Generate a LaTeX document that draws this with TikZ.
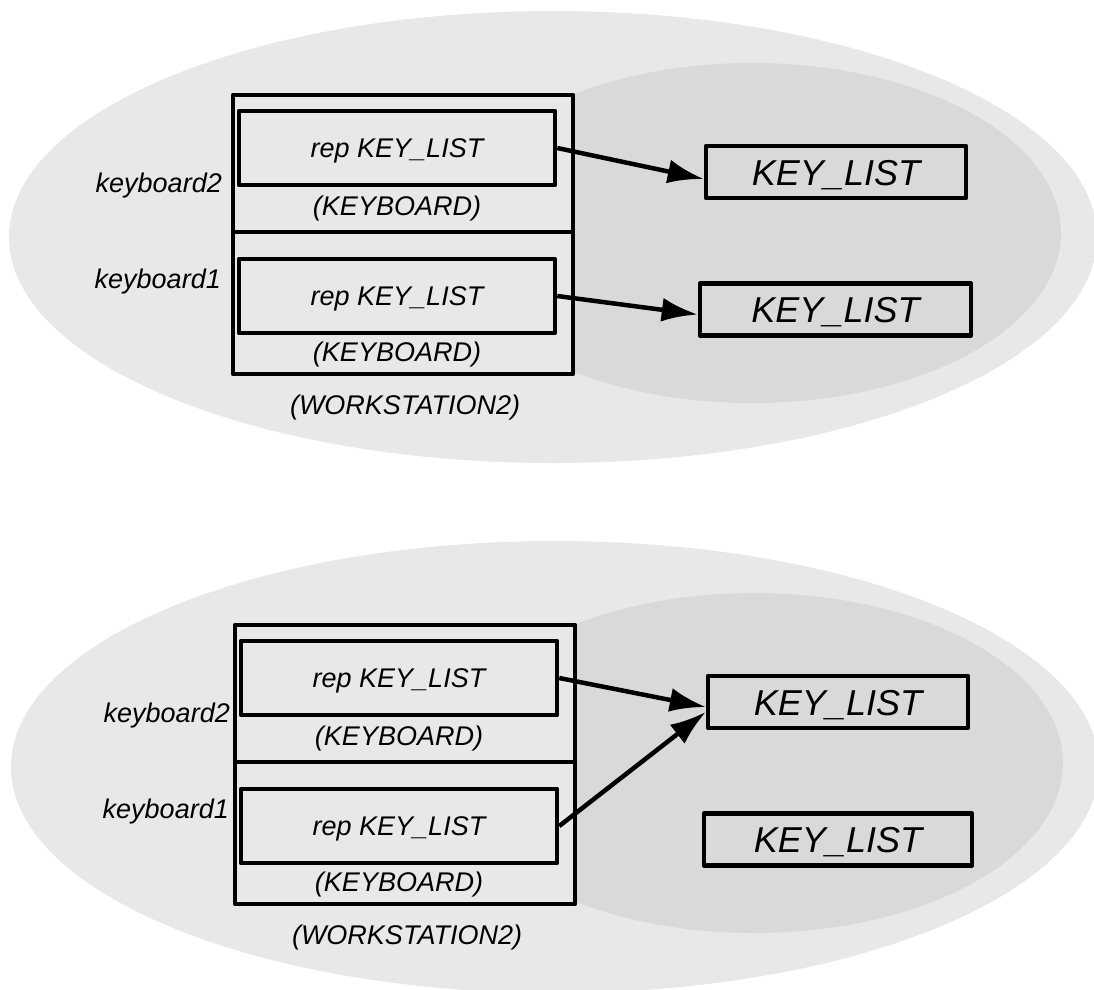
\documentclass[tikz,border=0pt]{standalone}
\usepackage{fontspec}
\setmainfont{Liberation Sans}
\usetikzlibrary{arrows.meta}
\definecolor{outerfill}{HTML}{E8E8E8}
\definecolor{innerfill}{HTML}{D9D9D9}

\begin{document}
\begin{tikzpicture}[x=1pt,y=-1pt,
  smalltext/.style={inner sep=0pt, text height=19.5pt, text depth=0pt,
    font=\fontsize{27}{32}\selectfont\itshape},
  bigtext/.style={inner sep=0pt, text height=26pt, text depth=0pt,
    font=\fontsize{36}{43}\selectfont\itshape},
  wsbox/.style={draw, line width=4.5pt, line join=round, fill=outerfill,
    minimum width=340pt, minimum height=279pt, inner sep=0pt},
  divider/.style={line width=4pt},
  repbox/.style={smalltext, draw, line width=4.5pt, line join=round, fill=outerfill,
    minimum width=316pt, minimum height=74pt},
  keybox/.style={bigtext, draw, line width=4.5pt, line join=round, fill=innerfill,
    minimum height=52pt},
  link/.style={line width=4.5pt, -{Latex[length=36pt,width=24pt]}},
]
\useasboundingbox (0,0) rectangle (1094,989);
\clip (0,0) rectangle (1094,989);

% ---------- upper configuration ----------
\begin{scope}[name prefix=t-]
  \fill[outerfill] (553,237) ellipse [x radius=544pt, y radius=226pt];
  \fill[innerfill] (752,233) ellipse [x radius=309pt, y radius=170pt];

  \node[wsbox] (ws) at (403,234.5) {};
  \draw[divider] ([yshift=2.5pt]ws.west) -- ([yshift=2.5pt]ws.east);

  \node[repbox] (rep2) at (397,148) {rep KEY\_LIST};
  \node[repbox] (rep1) at (397,296) {rep KEY\_LIST};
  \node[smalltext] (kb2) at (397,206) {(KEYBOARD)};
  \node[smalltext] (kb1) at (397,352) {(KEYBOARD)};
  \node[smalltext] (wsname) at (405,405) {(WORKSTATION2)};
  \node[smalltext, anchor=east] (lab2) at (222,183) {keyboard2};
  \node[smalltext, anchor=east] (lab1) at (221,279) {keyboard1};

  \node[keybox, minimum width=260pt] (kl1) at (836,172) {KEY\_LIST};
  \node[keybox, minimum width=271pt] (kl2) at (835.5,309.5) {KEY\_LIST};

  \draw[link] (rep2.east) -- ([yshift=-7pt]kl1.west);
  \draw[link] (rep1.east) -- ([yshift=-5pt]kl2.west);
\end{scope}

% ---------- lower configuration ----------
\begin{scope}[shift={(2,530)}, name prefix=b-]
  \fill[outerfill] (553,237) ellipse [x radius=544pt, y radius=226pt];
  \fill[innerfill] (752,233) ellipse [x radius=309pt, y radius=170pt];

  \node[wsbox] (ws) at (403,234.5) {};
  \draw[divider] ([yshift=2.5pt]ws.west) -- ([yshift=2.5pt]ws.east);

  \node[repbox] (rep2) at (397,148) {rep KEY\_LIST};
  \node[repbox] (rep1) at (397,296) {rep KEY\_LIST};
  \node[smalltext] (kb2) at (397,206) {(KEYBOARD)};
  \node[smalltext] (kb1) at (397,352) {(KEYBOARD)};
  \node[smalltext] (wsname) at (405,405) {(WORKSTATION2)};
  \node[smalltext, anchor=east] (lab2) at (228,183) {keyboard2};
  \node[smalltext, anchor=east] (lab1) at (227,279) {keyboard1};

  \node[keybox, minimum width=260pt] (kl1) at (836,172) {KEY\_LIST};
  \node[keybox, minimum width=268pt] (kl2) at (836,309.5) {KEY\_LIST};

  \draw[link] (rep2.east) -- ([yshift=-5pt]kl1.west);
  \draw[link] (rep1.east) -- ([yshift=-10pt]kl1.west);
\end{scope}
\end{tikzpicture}
\end{document}
